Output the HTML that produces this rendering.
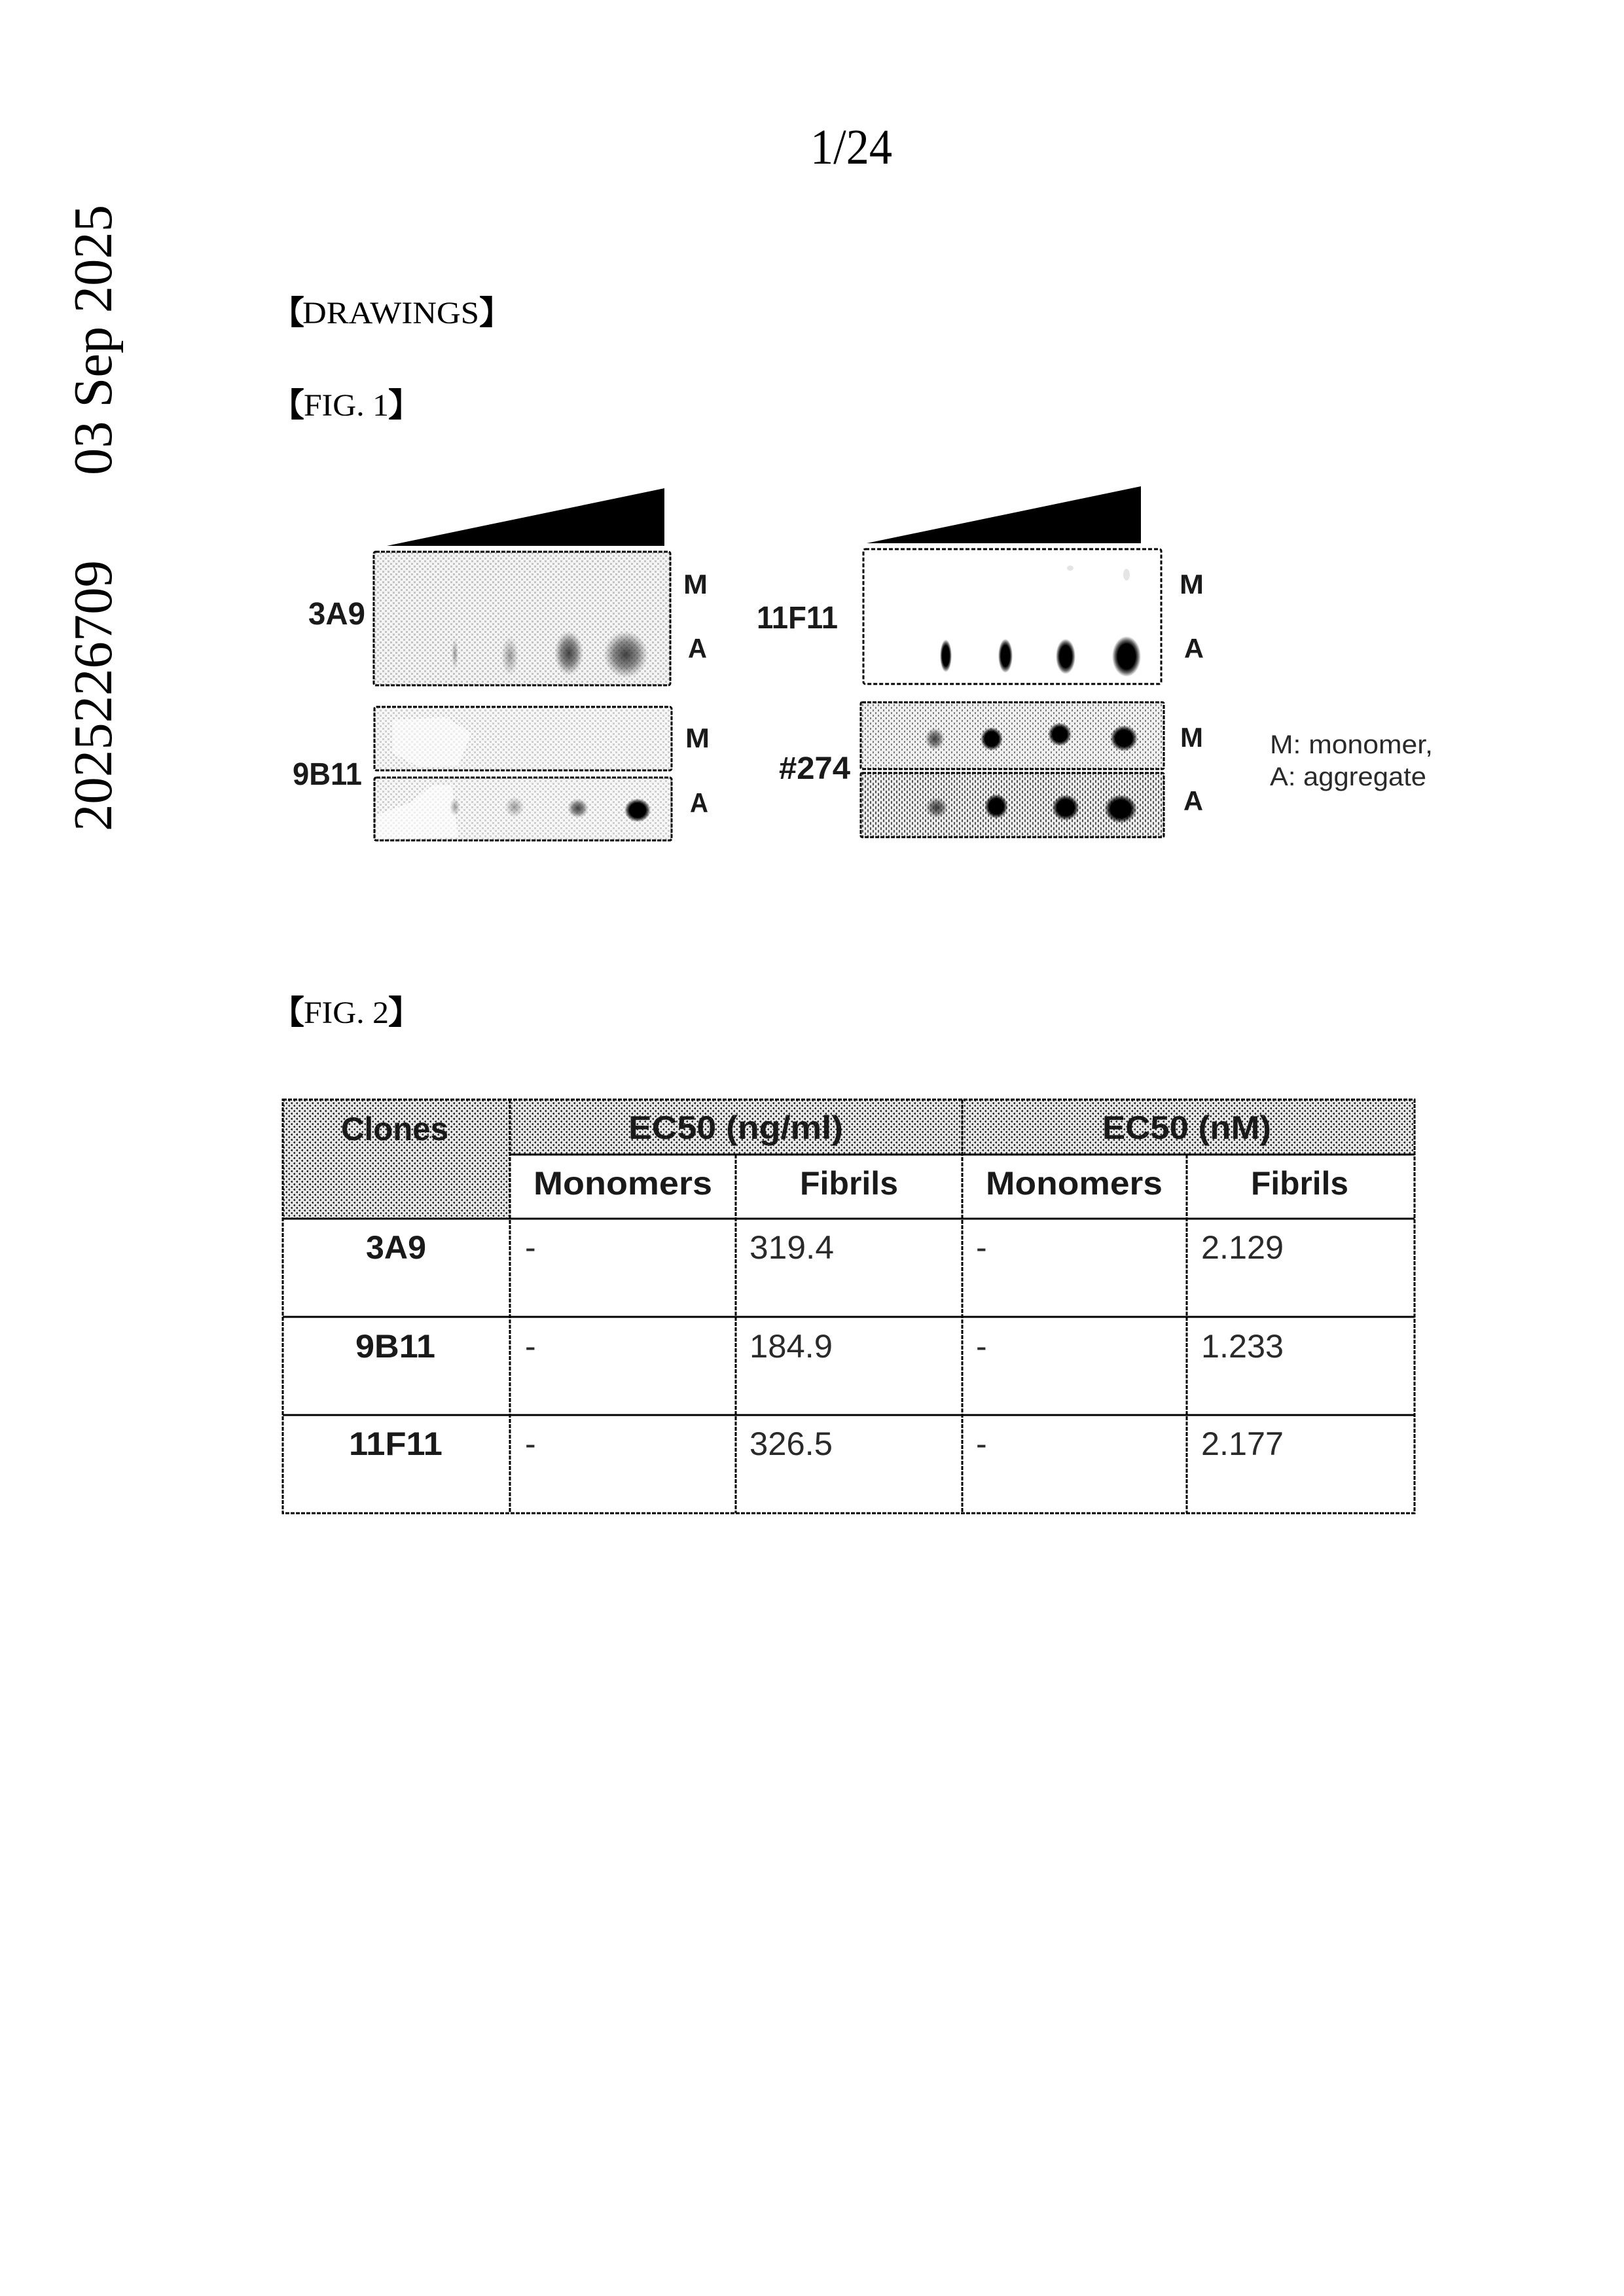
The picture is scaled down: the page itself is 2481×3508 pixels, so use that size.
<!DOCTYPE html>
<html><head><meta charset="utf-8"><style>
html,body{margin:0;padding:0;background:#fff;width:2481px;height:3508px;overflow:hidden}
svg{display:block}
.s{font-family:"Liberation Serif","Noto Serif CJK SC",serif;fill:#000}
.b{font-family:"Liberation Sans","Noto Sans CJK KR",sans-serif;font-weight:bold;fill:#1a1a1a}
.r{font-family:"Liberation Sans","Noto Sans CJK KR",sans-serif;fill:#2a2a2a}
.br{font-family:"Noto Serif CJK SC",serif;font-weight:900;fill:#000;stroke:#000;stroke-width:2}
</style></head><body>
<svg width="2481" height="3508" viewBox="0 0 2481 3508" xmlns="http://www.w3.org/2000/svg">
<defs>
<pattern id="pHead" width="8" height="8" patternUnits="userSpaceOnUse"><rect width="8" height="8" fill="#e6e6e6"/><rect x="1" y="0" width="2" height="3" fill="#333"/><rect x="0" y="1" width="3" height="1" fill="#333"/><rect x="5" y="4" width="2" height="3" fill="#333"/><rect x="4" y="5" width="3" height="1" fill="#333"/></pattern>
<pattern id="pLight" width="8" height="8" patternUnits="userSpaceOnUse"><rect width="8" height="8" fill="#f5f5f5"/><rect x="0" y="0" width="3" height="3" fill="#c4c4c4"/><rect x="4" y="4" width="3" height="3" fill="#c4c4c4"/></pattern>
<pattern id="pLighter" width="8" height="8" patternUnits="userSpaceOnUse"><rect width="8" height="8" fill="#f8f8f8"/><rect x="0" y="0" width="3" height="3" fill="#cfcfcf"/><rect x="4" y="4" width="3" height="3" fill="#cfcfcf"/></pattern>
<pattern id="pDark1" width="8" height="8" patternUnits="userSpaceOnUse"><rect width="8" height="8" fill="#f0f0f0"/><rect x="1" y="0" width="2" height="3" fill="#808080"/><rect x="5" y="4" width="2" height="3" fill="#808080"/></pattern>
<pattern id="pDark2" width="8" height="8" patternUnits="userSpaceOnUse"><rect width="8" height="8" fill="#ebebeb"/><rect x="1" y="0" width="2" height="4" fill="#555"/><rect x="5" y="4" width="2" height="4" fill="#555"/></pattern>
<radialGradient id="g"><stop offset="0" stop-color="#000"/><stop offset=".62" stop-color="#000"/><stop offset=".8" stop-color="#000" stop-opacity=".6"/><stop offset="1" stop-color="#000" stop-opacity="0"/></radialGradient>
<radialGradient id="gm"><stop offset="0" stop-color="#222" stop-opacity=".85"/><stop offset=".55" stop-color="#333" stop-opacity=".55"/><stop offset="1" stop-color="#555" stop-opacity="0"/></radialGradient>
<radialGradient id="gl"><stop offset="0" stop-color="#444" stop-opacity=".5"/><stop offset="1" stop-color="#555" stop-opacity="0"/></radialGradient>
</defs>
<rect width="2481" height="3508" fill="#fff"/>

<!-- page header -->
<text class="s" x="1238" y="250" font-size="76" textLength="125" lengthAdjust="spacingAndGlyphs">1/24</text>
<text class="s" transform="translate(170,726) rotate(-90)" font-size="84" textLength="413" lengthAdjust="spacingAndGlyphs">03 Sep 2025</text>
<text class="s" transform="translate(170,1270) rotate(-90)" font-size="84" textLength="414" lengthAdjust="spacingAndGlyphs">2025226709</text>

<text class="br" x="416" y="494" font-size="48">【</text>
<text class="s" x="462" y="494" font-size="48" textLength="270" lengthAdjust="spacingAndGlyphs">DRAWINGS</text>
<text class="br" x="733" y="494" font-size="48">】</text>

<text class="br" x="416" y="635" font-size="48">【</text>
<text class="s" x="464" y="635" font-size="48" textLength="130" lengthAdjust="spacingAndGlyphs">FIG. 1</text>
<text class="br" x="594" y="635" font-size="48">】</text>

<text class="br" x="416" y="1563" font-size="48">【</text>
<text class="s" x="464" y="1563" font-size="48" textLength="130" lengthAdjust="spacingAndGlyphs">FIG. 2</text>
<text class="br" x="594" y="1563" font-size="48">】</text>

<!-- triangles -->
<polygon points="591,834 1015,746 1015,834" fill="#000"/>
<polygon points="1324,830 1743,743 1743,830" fill="#000"/>

<!-- 3A9 -->
<rect x="571" y="843" width="453" height="204" rx="3" fill="url(#pLight)" stroke="#000" stroke-width="3" stroke-dasharray="6 2"/>
<ellipse cx="695" cy="999" rx="5" ry="24" fill="url(#gl)"/>
<ellipse cx="779" cy="1002" rx="13" ry="30" fill="url(#gl)"/>
<ellipse cx="869" cy="998" rx="22" ry="34" fill="url(#gm)"/>
<ellipse cx="956" cy="1000" rx="34" ry="36" fill="url(#gm)"/>
<text class="b" x="471" y="954" font-size="48" textLength="87" lengthAdjust="spacingAndGlyphs">3A9</text>
<text class="b" x="1044" y="907" font-size="42" textLength="37" lengthAdjust="spacingAndGlyphs">M</text>
<text class="b" x="1051" y="1005" font-size="42" textLength="29" lengthAdjust="spacingAndGlyphs">A</text>

<!-- 9B11 -->
<rect x="572" y="1080" width="454" height="97" rx="3" fill="url(#pLighter)" stroke="#000" stroke-width="3" stroke-dasharray="6 2"/>
<polygon points="600,1100 680,1096 720,1120 700,1170 640,1172 600,1150" fill="#fff" opacity=".6"/>
<rect x="572" y="1188" width="454" height="96" rx="3" fill="url(#pLighter)" stroke="#000" stroke-width="3" stroke-dasharray="6 2"/>
<polygon points="576,1245 630,1225 660,1200 690,1200 700,1280 576,1282" fill="#fff" opacity=".65"/>
<rect x="572" y="1188" width="454" height="96" rx="3" fill="none" stroke="#000" stroke-width="3" stroke-dasharray="6 2"/>
<ellipse cx="695" cy="1233" rx="8" ry="14" fill="url(#gl)"/>
<ellipse cx="786" cy="1233" rx="15" ry="16" fill="url(#gl)"/>
<ellipse cx="883" cy="1235" rx="16" ry="15" fill="url(#gm)"/>
<ellipse cx="974" cy="1238" rx="20" ry="18" fill="url(#g)"/>
<text class="b" x="447" y="1199" font-size="48" textLength="106" lengthAdjust="spacingAndGlyphs">9B11</text>
<text class="b" x="1047" y="1142" font-size="42" textLength="37" lengthAdjust="spacingAndGlyphs">M</text>
<text class="b" x="1054" y="1241" font-size="42" textLength="28" lengthAdjust="spacingAndGlyphs">A</text>

<!-- 11F11 -->
<rect x="1319" y="839" width="455" height="206" rx="3" fill="#fff" stroke="#000" stroke-width="3" stroke-dasharray="6 3"/>
<ellipse cx="1635" cy="868" rx="5" ry="4" fill="#e5e5e5"/>
<ellipse cx="1721" cy="878" rx="5" ry="9" fill="#e5e5e5"/>
<ellipse cx="1445" cy="1002" rx="9" ry="25" fill="url(#g)"/>
<ellipse cx="1536" cy="1002" rx="11" ry="26" fill="url(#g)"/>
<ellipse cx="1628" cy="1003" rx="15" ry="27" fill="url(#g)"/>
<ellipse cx="1721" cy="1003" rx="22" ry="31" fill="url(#g)"/>
<text class="b" x="1156" y="960" font-size="48" textLength="124" lengthAdjust="spacingAndGlyphs">11F11</text>
<text class="b" x="1802" y="907" font-size="42" textLength="37" lengthAdjust="spacingAndGlyphs">M</text>
<text class="b" x="1809" y="1005" font-size="42" textLength="30" lengthAdjust="spacingAndGlyphs">A</text>

<!-- #274 -->
<rect x="1315" y="1073" width="463" height="102" rx="2" fill="url(#pDark1)" stroke="#000" stroke-width="3" stroke-dasharray="6 2"/>
<rect x="1315" y="1181" width="463" height="98" rx="2" fill="url(#pDark2)" stroke="#000" stroke-width="3" stroke-dasharray="6 2"/>
<ellipse cx="1428" cy="1129" rx="15" ry="17" fill="url(#gm)"/>
<ellipse cx="1515" cy="1129" rx="17" ry="18" fill="url(#g)"/>
<ellipse cx="1619" cy="1122" rx="18" ry="18" fill="url(#g)"/>
<ellipse cx="1717" cy="1128" rx="21" ry="20" fill="url(#g)"/>
<ellipse cx="1431" cy="1234" rx="17" ry="16" fill="url(#gm)"/>
<ellipse cx="1522" cy="1232" rx="18" ry="19" fill="url(#g)"/>
<ellipse cx="1628" cy="1234" rx="21" ry="20" fill="url(#g)"/>
<ellipse cx="1712" cy="1236" rx="25" ry="22" fill="url(#g)"/>
<text class="b" x="1190" y="1190" font-size="48" textLength="109" lengthAdjust="spacingAndGlyphs">#274</text>
<text class="b" x="1803" y="1141" font-size="42" textLength="35" lengthAdjust="spacingAndGlyphs">M</text>
<text class="b" x="1808" y="1238" font-size="42" textLength="30" lengthAdjust="spacingAndGlyphs">A</text>

<!-- legend -->
<text class="r" x="1940" y="1151" font-size="40" textLength="249" lengthAdjust="spacingAndGlyphs">M: monomer,</text>
<text class="r" x="1940" y="1200" font-size="40" textLength="239" lengthAdjust="spacingAndGlyphs">A: aggregate</text>

<!-- table -->
<rect x="432" y="1680" width="1727" height="84" fill="url(#pHead)"/>
<rect x="432" y="1764" width="347" height="98" fill="url(#pHead)"/>
<g fill="none" stroke="#000" stroke-width="3">
<rect x="432" y="1680" width="1729" height="632" stroke-dasharray="6 2"/>
<path d="M779 1680V2312M1124 1764V2312M1470 1680V2312M1813 1764V2312" stroke-dasharray="6 2"/>
<path d="M779 1764H2161M432 1862H2161M432 2012H2161M432 2162H2161"/>
</g>
<text class="b" x="521" y="1742" font-size="50" textLength="164" lengthAdjust="spacingAndGlyphs">Clones</text>
<text class="b" x="960" y="1740" font-size="50" textLength="328" lengthAdjust="spacingAndGlyphs">EC50 (ng/ml)</text>
<text class="b" x="1684" y="1740" font-size="50" textLength="258" lengthAdjust="spacingAndGlyphs">EC50 (nM)</text>
<text class="b" x="815" y="1825" font-size="50" textLength="273" lengthAdjust="spacingAndGlyphs">Monomers</text>
<text class="b" x="1222" y="1825" font-size="50" textLength="150" lengthAdjust="spacingAndGlyphs">Fibrils</text>
<text class="b" x="1506" y="1825" font-size="50" textLength="270" lengthAdjust="spacingAndGlyphs">Monomers</text>
<text class="b" x="1911" y="1825" font-size="50" textLength="149" lengthAdjust="spacingAndGlyphs">Fibrils</text>

<text class="b" x="559" y="1923" font-size="50" textLength="92" lengthAdjust="spacingAndGlyphs">3A9</text>
<text class="b" x="543" y="2074" font-size="50" textLength="122" lengthAdjust="spacingAndGlyphs">9B11</text>
<text class="b" x="533" y="2223" font-size="50" textLength="143" lengthAdjust="spacingAndGlyphs">11F11</text>

<g class="r" font-size="50">
<text x="802" y="1923">-</text><text x="802" y="2074">-</text><text x="802" y="2223">-</text>
<text x="1491" y="1923">-</text><text x="1491" y="2074">-</text><text x="1491" y="2223">-</text>
<text x="1145" y="1923" textLength="129" lengthAdjust="spacingAndGlyphs">319.4</text>
<text x="1145" y="2074" textLength="127" lengthAdjust="spacingAndGlyphs">184.9</text>
<text x="1145" y="2223" textLength="127" lengthAdjust="spacingAndGlyphs">326.5</text>
<text x="1835" y="1923" textLength="126" lengthAdjust="spacingAndGlyphs">2.129</text>
<text x="1835" y="2074" textLength="126" lengthAdjust="spacingAndGlyphs">1.233</text>
<text x="1835" y="2223" textLength="126" lengthAdjust="spacingAndGlyphs">2.177</text>
</g>
</svg>
</body></html>
